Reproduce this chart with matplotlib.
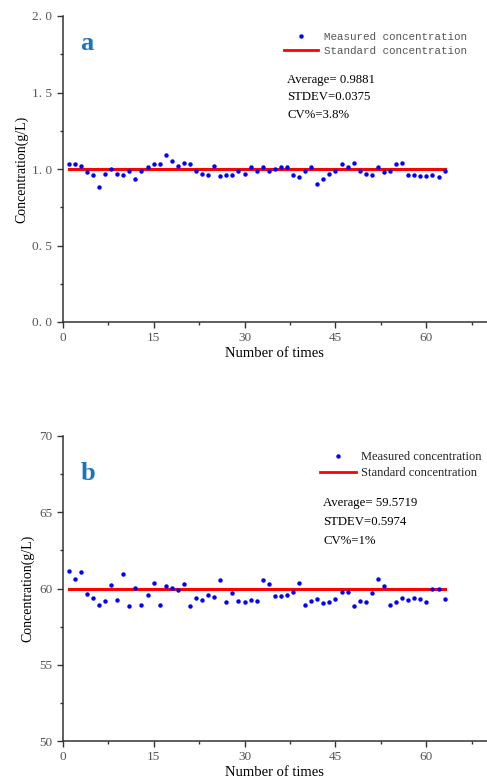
import matplotlib
matplotlib.use("Agg")
import matplotlib.pyplot as plt
from matplotlib.ticker import MultipleLocator, FuncFormatter
from matplotlib.lines import Line2D

times = list(range(1, 64))

measured_a = [1.03, 1.03, 1.02, 0.98, 0.96, 0.885, 0.97, 1.00, 0.97, 0.96,
              0.99, 0.935, 0.99, 1.01, 1.03, 1.03, 1.09, 1.05, 1.02, 1.04,
              1.03, 0.99, 0.97, 0.96, 1.02, 0.955, 0.96, 0.96, 0.99, 0.97,
              1.01, 0.99, 1.01, 0.99, 1.00, 1.01, 1.01, 0.96, 0.945, 0.99,
              1.01, 0.905, 0.935, 0.97, 0.99, 1.03, 1.01, 1.04, 0.99, 0.97,
              0.96, 1.01, 0.98, 0.99, 1.03, 1.04, 0.96, 0.96, 0.955, 0.955,
              0.96, 0.945, 0.99]

measured_b = [61.17, 60.62, 61.08, 59.64, 59.40, 58.92, 59.20, 60.23, 59.25, 60.93,
              58.83, 60.03, 58.94, 59.55, 60.38, 58.92, 60.16, 60.03, 59.90, 60.30,
              58.87, 59.36, 59.25, 59.60, 59.44, 60.56, 59.09, 59.68, 59.20, 59.09,
              59.26, 59.20, 60.54, 60.30, 59.53, 59.53, 59.55, 59.79, 60.34, 58.92,
              59.18, 59.33, 59.05, 59.09, 59.31, 59.79, 59.75, 58.87, 59.18, 59.09,
              59.73, 60.62, 60.19, 58.90, 59.09, 59.36, 59.22, 59.40, 59.31, 59.09,
              59.99, 59.95, 59.31]

standard_a = 1.0
standard_b = 60.0
stats_a = ["Average= 0.9881", "STDEV=0.0375", "CV%=3.8%"]
stats_b = ["Average= 59.5719", "STDEV=0.5974", "CV%=1%"]

W, H = 487, 784
fig = plt.figure(figsize=(W / 100, H / 100), dpi=100)
serif = "Liberation Serif"
grey = "#333333"


def px(x, y):
    return x / W, 1 - y / H


def setup(ax, ylim, ymajor, yminor, fmt):
    ax.set_xlim(0, 70)
    ax.set_ylim(*ylim)
    for s in ["top", "right"]:
        ax.spines[s].set_visible(False)
    for s in ["left", "bottom"]:
        ax.spines[s].set_color(grey)
        ax.spines[s].set_linewidth(1.1)
    ax.xaxis.set_major_locator(MultipleLocator(15))
    ax.xaxis.set_minor_locator(MultipleLocator(7.5))
    ax.yaxis.set_major_locator(MultipleLocator(ymajor))
    ax.yaxis.set_minor_locator(MultipleLocator(yminor))
    ax.yaxis.set_major_formatter(FuncFormatter(fmt))
    ax.xaxis.set_major_formatter(FuncFormatter(lambda v, p: "%d" % v if v < 69 else ""))
    ax.tick_params(which="major", direction="out", length=4, width=1.0, color=grey,
                   labelsize=9.5, labelcolor="#555555", pad=3.5)
    ax.tick_params(which="minor", direction="out", length=2.5, width=1.0, color=grey)
    for lab in ax.get_xticklabels() + ax.get_yticklabels():
        lab.set_fontfamily(serif)
    ax.set_xlabel("Number of times", fontsize=10.5, family=serif, labelpad=2)
    ax.set_ylabel("Concentration(g/L)", fontsize=10, family=serif, labelpad=3)


def panel(ax, data, std, stats, letter, letter_xy, leg_xy, stat_xy, stat_step,
          leg_font, leg_size, leg_color, hlen, hpad):
    ax.plot(times, data, "o", color="#0000ff", markersize=3.2, markeredgewidth=0, zorder=3)
    ax.plot([times[0], times[-1]], [std, std], color="#ff0000", linewidth=2.2, zorder=2)
    fig.text(*px(*letter_xy), letter, color="#1b75bc", fontsize=19, fontweight="bold",
             family=serif, ha="center", va="center")
    handles = [Line2D([], [], marker="o", linestyle="none", color="#0000ff",
                      markersize=3.2, markeredgewidth=0),
               Line2D([], [], color="#ff0000", linewidth=2.0)]
    leg = ax.legend(handles, ["Measured concentration", "Standard concentration"],
                    loc="upper left", bbox_to_anchor=px(*leg_xy),
                    bbox_transform=fig.transFigure, frameon=False, borderpad=0,
                    borderaxespad=0, handlelength=hlen, handletextpad=hpad,
                    labelspacing=0.35, prop={"family": leg_font, "size": leg_size})
    for t in leg.get_texts():
        t.set_color(leg_color)
    x0, y0 = stat_xy
    for i, s in enumerate(stats):
        fig.text(*px(x0, y0 + i * stat_step), s, fontsize=9.2, family=serif,
                 va="center", ha="left")


ax1 = fig.add_axes([62.7 / W, 1 - 322 / H, (W - 62.7) / W, 306 / H])
setup(ax1, (0, 2.0), 0.5, 0.25, lambda v, p: ("%.1f" % v).replace(".", ". "))
panel(ax1, measured_a, standard_a, stats_a, "a", (87, 43), (284, 32), (287, 80), 17.5,
      "Liberation Mono", 7.8, "#555555", 3.1, 0.6)

ax2 = fig.add_axes([62.7 / W, 1 - 741 / H, (W - 62.7) / W, 305 / H])
setup(ax2, (50, 70), 5, 2.5, lambda v, p: "%d" % v)
panel(ax2, measured_b, standard_b, stats_b, "b", (88, 474), (320, 451), (323, 503), 19,
      serif, 9.0, "#222222", 2.9, 0.4)

fig.savefig("out.png", dpi=100)
